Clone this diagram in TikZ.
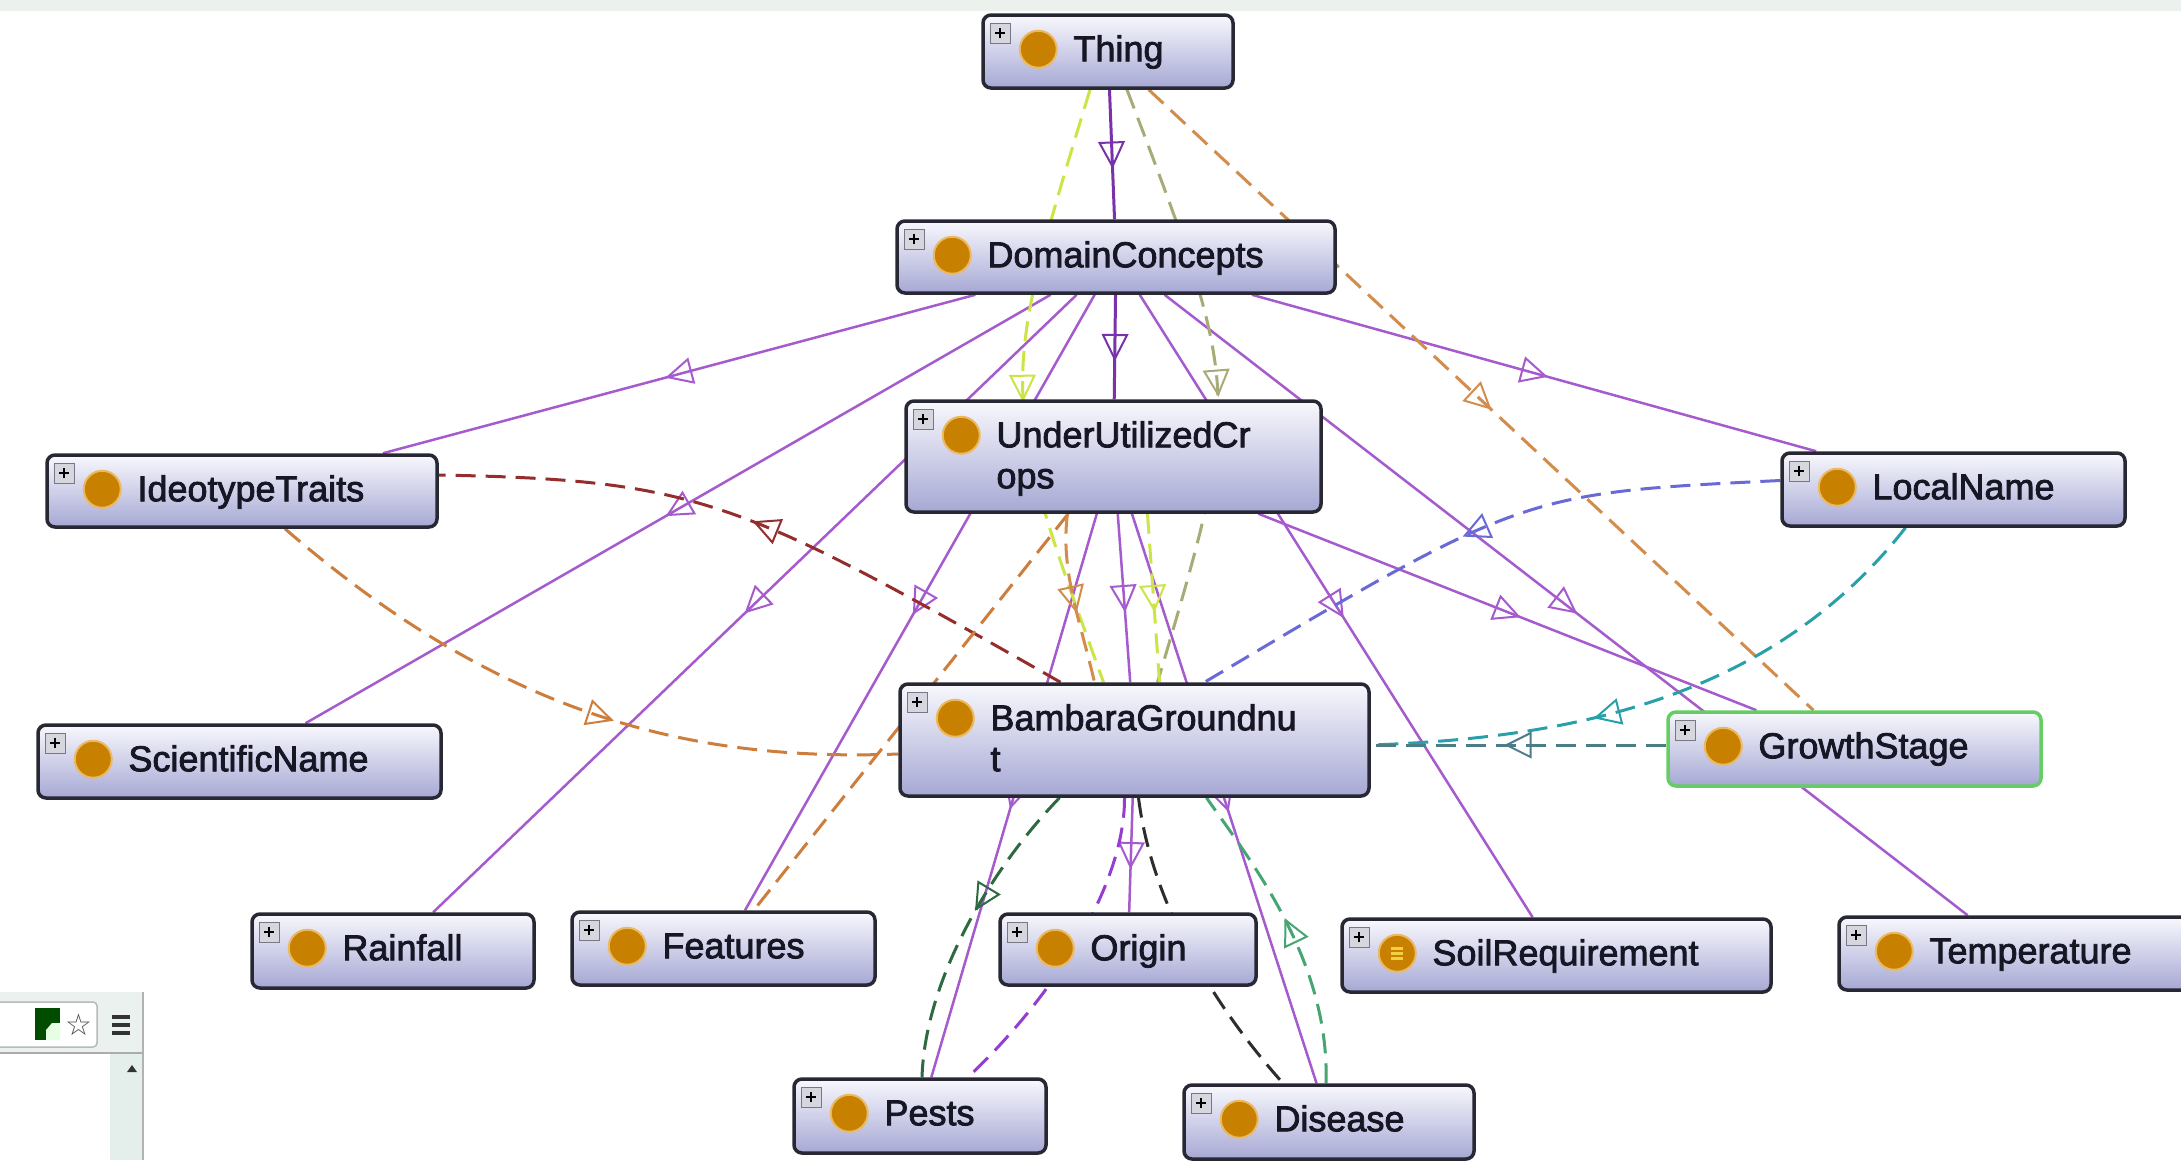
\documentclass[tikz,border=0pt]{standalone}
\usepackage{fontspec}
\setmainfont{Liberation Sans}
\newfontfamily\lblfont{Liberation Sans}[FakeBold=2.2]
\newfontfamily\symfont{DejaVu Sans}
\usetikzlibrary{arrows.meta,decorations.markings,calc}
\pgfdeclarelayer{bgbase}
\pgfdeclarelayer{edges}
\pgfsetlayers{bgbase,edges,main}

\definecolor{subc}{RGB}{165,90,205}
\definecolor{subdark}{RGB}{120,50,170}
\definecolor{boxtop}{RGB}{248,248,253}
\definecolor{boxbot}{RGB}{166,168,212}
\definecolor{boxline}{RGB}{40,40,52}
\definecolor{ballc}{RGB}{200,128,0}
\definecolor{ballring}{RGB}{235,185,95}
\definecolor{cyel}{RGB}{205,228,70}
\definecolor{ckhaki}{RGB}{168,170,120}
\definecolor{corange}{RGB}{210,140,75}
\definecolor{cred}{RGB}{150,45,45}
\definecolor{corange2}{RGB}{205,125,60}
\definecolor{cblue}{RGB}{105,105,215}
\definecolor{cteal}{RGB}{40,160,170}
\definecolor{cgteal}{RGB}{75,125,135}
\definecolor{cgreen}{RGB}{45,105,65}
\definecolor{cgreen2}{RGB}{70,165,115}
\definecolor{cblack}{RGB}{45,45,45}
\definecolor{cpdash}{RGB}{150,60,210}
\definecolor{txt}{RGB}{22,22,36}
\definecolor{growline}{RGB}{100,205,100}
\definecolor{topband}{RGB}{236,241,237}
\definecolor{chromebg}{RGB}{234,241,239}
\definecolor{scrollc}{RGB}{228,239,236}

\tikzset{
  cls/.style={rectangle, draw=boxline, line width=3.5pt, rounded corners=8pt,
    top color=boxtop, bottom color=boxbot, inner sep=0pt},
  growcls/.style={draw=growline},
  expander/.style={rectangle, draw={rgb,255:red,120;green,120;blue,132}, line width=1pt,
    fill={rgb,255:red,214;green,214;blue,222}, minimum size=20pt, inner sep=0pt},
  plusmark/.style={line width=2.2pt, color=black},
  ball/.style={circle, fill=ballc, draw=ballring, line width=2pt, minimum size=37pt, inner sep=0pt},
  lbl/.style={font=\lblfont\fontsize{36}{41}\selectfont, text=txt, inner sep=0pt, anchor=base west},
  sub/.style={color=subc, line width=2.5pt},
  prop/.style={line width=3pt, dash pattern=on 20pt off 10pt},
  midarrow/.style={postaction={decorate,decoration={markings,
      mark=at position #1 with {\draw[solid,line width=2pt] (12,0) -- (-12,12) -- (-12,-12) -- cycle;}}}},
  midarrow/.default=0.5
}

\newcommand{\ontcls}[7][]{%
  \node[cls,#1,minimum width=#5pt,minimum height=#6pt] (#2) at (#3,#4) {};
  \node[expander] (#2-x) at ([shift={(19,20)}]#2.north west) {};
  \draw[plusmark] ([xshift=-5pt]#2-x.center) -- ([xshift=5pt]#2-x.center)
                  ([yshift=-5pt]#2-x.center) -- ([yshift=5pt]#2-x.center);
  \node[ball] (#2-b) at ([shift={(57,36)}]#2.north west) {};
  \node[lbl] (#2-t) at ([shift={(92,48)}]#2.north west) {#7};
}

\begin{document}
\begin{tikzpicture}[x=1pt,y=-1pt]
\useasboundingbox (0,0) rectangle (2181,1160);
\clip (0,0) rectangle (2181,1160);

\begin{pgfonlayer}{bgbase}
  \fill[white] (0,0) rectangle (2181,1160);
  \fill[topband] (0,0) rectangle (2181,11);
\end{pgfonlayer}

% ---------- classes ----------
\ontcls{thing}{1108}{51.5}{250}{73}{Thing}
\ontcls{dc}{1116}{257}{438}{72}{DomainConcepts}
\ontcls{uuc}{1113.5}{456.5}{415}{111}{UnderUtilizedCr}
\node[lbl] (uuc-t2) at ([shift={(92,89)}]uuc.north west) {ops};
\ontcls{ideo}{242}{491}{390}{72}{IdeotypeTraits}
\ontcls{local}{1953.5}{489.5}{343}{73}{LocalName}
\ontcls{sci}{239.5}{761.5}{403}{73}{ScientificName}
\ontcls{bam}{1134.5}{740}{469}{112}{BambaraGroundnu}
\node[lbl] (bam-t2) at ([shift={(92,89)}]bam.north west) {t};
\ontcls[growcls]{grow}{1854.5}{749}{373}{74}{GrowthStage}
\ontcls{rain}{393}{951}{282}{74}{Rainfall}
\ontcls{feat}{723.5}{948.5}{303}{73}{Features}
\ontcls{orig}{1128}{949.5}{256}{71}{Origin}
\ontcls{soil}{1556.5}{955.5}{429}{73}{SoilRequirement}
\draw[color=ballring!70!yellow, line width=2.5pt]
  ([shift={(-6,-5)}]soil-b.center) -- ([shift={(6,-5)}]soil-b.center)
  ([shift={(-6,0)}]soil-b.center) -- ([shift={(6,0)}]soil-b.center)
  ([shift={(-6,5)}]soil-b.center) -- ([shift={(6,5)}]soil-b.center);
\ontcls{temp}{2017}{953.5}{356}{73}{Temperature}
\ontcls{pests}{920}{1116}{252}{74}{Pests}
\ontcls{dis}{1329}{1122}{290}{74}{Disease}

% ---------- connectors ----------
\begin{pgfonlayer}{edges}
  % subclass links
  \draw[sub, midarrow, color=subdark, line width=3pt] (thing) -- (dc);
  \draw[sub, midarrow, color=subdark, line width=3pt] (dc) -- (uuc);
  \draw[sub, midarrow] (dc) -- (ideo);
  \draw[sub, midarrow] (dc) -- (sci);
  \draw[sub, midarrow] (dc) -- (rain);
  \draw[sub, midarrow] (dc) -- (feat);
  \draw[sub, midarrow] (dc) -- (local);
  \draw[sub, midarrow] (dc) -- (soil);
  \draw[sub, midarrow] (dc) -- (temp);
  \draw[sub, midarrow] (uuc) -- (bam);
  \draw[sub, midarrow] (uuc) -- (grow);
  \draw[sub, midarrow] (uuc) -- (pests);
  \draw[sub, midarrow] (uuc) -- (dis);
  \draw[sub, midarrow] (bam) -- (orig);

  % property links
  \draw[prop, color=cyel, midarrow] ([xshift=-18pt]thing.south)
     .. controls (998,391) and (998,391) .. ([xshift=-31pt]bam.north);
  \draw[prop, color=ckhaki, midarrow] ([xshift=19pt]thing.south)
     .. controls (1243,394) and (1243,394) .. ([xshift=23pt]bam.north);
  \draw[prop, color=corange, midarrow] (thing) -- (grow);
  \draw[prop, color=cred, midarrow] ([xshift=-74pt]bam.north)
     .. controls (740,500) and (700,480) .. ([yshift=16pt]ideo.east);
  \draw[prop, color=corange2, midarrow=0.55] ([xshift=43pt]ideo.south)
     .. controls (500,715) and (690,762) .. ([yshift=-14pt]bam.west);
  \draw[prop, color=cblue, midarrow] ([yshift=9pt]local.west)
     .. controls (1523,493) and (1523,493) .. ([xshift=70pt]bam.north);
  \draw[prop, color=cteal, midarrow=0.6] ([xshift=-48pt]local.south)
     .. controls (1770,700) and (1569,738) .. ([yshift=-5pt]bam.east);
  \draw[prop, color=cgteal, midarrow] ([yshift=4pt]grow.west) -- ([yshift=-5pt]bam.east);
  \draw[prop, color=corange2] (uuc) -- (feat);
  \draw[prop, color=cyel, midarrow] ([xshift=34pt]uuc.south) -- ([xshift=25pt]bam.north);
  \draw[prop, color=corange, midarrow] ([xshift=-46pt]uuc.south)
     .. controls (1060,570) and (1080,620) .. ([xshift=-40pt]bam.north);
  \draw[prop, color=cgreen, midarrow=0.4] ([xshift=-75pt]bam.south)
     .. controls (990,870) and (925,980) .. ([xshift=2pt]pests.north);
  \draw[prop, color=cpdash] ([xshift=-10pt]bam.south)
     .. controls (1125,880) and (1060,990) .. ([xshift=48pt]pests.north);
  \draw[prop, color=cblack] ([xshift=4pt]bam.south)
     .. controls (1150,890) and (1200,990) .. ([xshift=-46pt]dis.north);
  \draw[prop, color=cgreen2, midarrow] ([xshift=-3pt]dis.north)
     .. controls (1330,960) and (1250,860) .. ([xshift=72pt]bam.south);
\end{pgfonlayer}

% ---------- browser chrome fragment (bottom left) ----------
\fill[chromebg] (0,992) rectangle (143,1053);
\fill[scrollc] (110,1053) rectangle (142,1160);
\draw[rounded corners=4pt, draw=gray!55, line width=1.5pt, fill=white] (-10,1002) rectangle (97,1047);
\fill[green!30!black] (35,1008) rectangle (60,1040);
\fill[green!10!white] (46,1040) -- (46,1030) -- (52,1023) -- (60,1023) -- (60,1040) -- cycle;
\node[font=\symfont\fontsize{30}{30}\selectfont, inner sep=0pt, text=black!70] (star) at (79,1025) {☆};
\draw[line width=3.5pt, color=black!80] (112,1017) -- (130,1017) (112,1025) -- (130,1025) (112,1033) -- (130,1033);
\draw[gray!65, line width=1.5pt] (0,1053) -- (143,1053);
\draw[gray!60, line width=2pt] (143,992) -- (143,1160);
\fill[black!80] (127,1072) -- (137,1072) -- (132,1065) -- cycle;
\end{tikzpicture}
\end{document}
